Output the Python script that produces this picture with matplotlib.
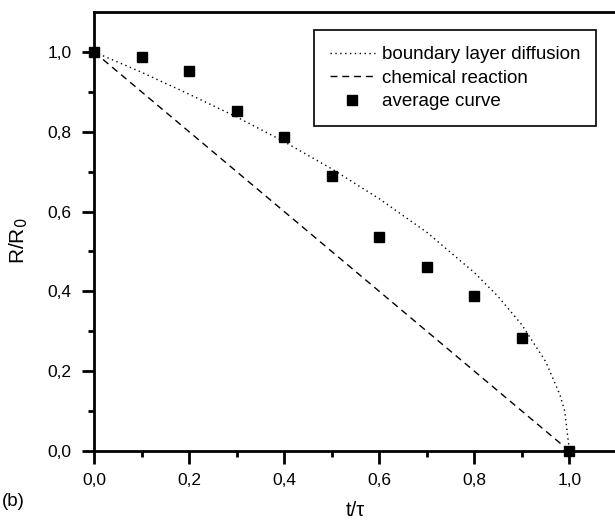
import matplotlib
matplotlib.use("Agg")
import matplotlib.pyplot as plt

plt.rcParams["font.family"] = ["Liberation Sans", "DejaVu Sans"]

# boundary layer diffusion curve
t_diff = [0.0, 0.1, 0.2, 0.3, 0.4, 0.5, 0.6, 0.7, 0.8, 0.85, 0.9, 0.95, 0.98, 0.99, 1.0]
r_diff = [1.0, 0.949, 0.894, 0.837, 0.775, 0.707, 0.632, 0.548, 0.447, 0.387,
          0.316, 0.224, 0.141, 0.10, 0.0]

# chemical reaction line
t_chem = [0.0, 1.0]
r_chem = [1.0, 0.0]

# average curve points
t_avg = [0.0, 0.1, 0.2, 0.3, 0.4, 0.5, 0.6, 0.7, 0.8, 0.9, 1.0]
r_avg = [1.0, 0.988, 0.951, 0.853, 0.788, 0.690, 0.535, 0.461, 0.388, 0.284, 0.0]

tick_lbl = ["0,0", "0,2", "0,4", "0,6", "0,8", "1,0"]

fig = plt.figure(figsize=(6.15, 5.22), dpi=100)
ax = fig.add_axes([94 / 615, 1 - 451 / 522, 523 / 615, 439 / 522])

ax.plot(t_diff, r_diff, color="black", lw=1.0, linestyle=(0, (1, 2.5)),
        label="boundary layer diffusion")
ax.plot(t_chem, r_chem, color="black", lw=1.0, linestyle=(0, (5, 3.5)),
        label="chemical reaction")
ax.plot(t_avg, r_avg, "s", color="black", ms=6.5, label="average curve",
        clip_on=False, zorder=5)

ax.set_xlim(0, 1.1)
ax.set_ylim(0, 1.1)
ax.set_xticks([0.0, 0.2, 0.4, 0.6, 0.8, 1.0])
ax.set_xticks([0.1, 0.3, 0.5, 0.7, 0.9], minor=True)
ax.set_yticks([0.0, 0.2, 0.4, 0.6, 0.8, 1.0])
ax.set_yticks([0.1, 0.3, 0.5, 0.7, 0.9], minor=True)
ax.set_xticklabels(tick_lbl)
ax.set_yticklabels(tick_lbl)
ax.tick_params(which="major", direction="out", length=9, width=2, labelsize=12.5)
ax.tick_params(which="minor", direction="out", length=4.5, width=2)
ax.tick_params(axis="x", which="major", pad=7)
ax.tick_params(axis="y", which="major", pad=7)
for s in ax.spines.values():
    s.set_linewidth(2)

ax.set_xlabel("t/τ", fontsize=14.5, labelpad=9)
ax.set_ylabel("R/R$_0$", fontsize=15, labelpad=10)
ax.yaxis.set_label_coords(-0.122, 0.48)
fig.text(2 / 615, 1 - 502 / 522, "(b)", fontsize=13.5, va="center", ha="left")

leg = ax.legend(loc="upper right", bbox_to_anchor=(596 / 615, 1 - 30 / 522),
                bbox_transform=fig.transFigure, borderaxespad=0, fontsize=13.5,
                fancybox=False, edgecolor="black", framealpha=1,
                handlelength=2.4, handletextpad=0.37, labelspacing=0.35,
                borderpad=0.85)
leg.get_frame().set_linewidth(1.2)

fig.savefig("out.png", dpi=100)
